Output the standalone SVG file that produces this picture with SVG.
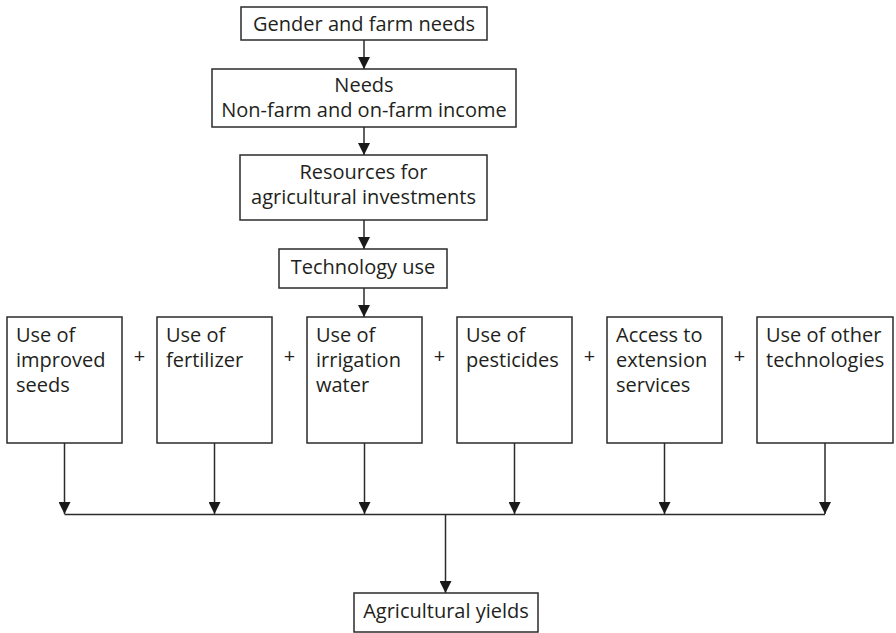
<svg xmlns="http://www.w3.org/2000/svg" width="896" height="633" viewBox="0 0 896 633">
<style>
  .box { fill: #ffffff; stroke: #2b2b2b; stroke-width: 1.5; }
  .t { font-family: "Open Sans", "Liberation Sans", sans-serif; font-size: 20px; fill: #231f20; }
  .c { text-anchor: middle; }
  .ln { stroke: #2b2b2b; stroke-width: 1.5; fill: none; }
  .ar { marker-end: url(#arrow); }
</style>
<defs>
  <marker id="arrow" markerUnits="userSpaceOnUse" viewBox="0 0 12 12" refX="12" refY="6" markerWidth="12" markerHeight="12" orient="auto">
    <path d="M0,0 L12,6 L0,12 Z" fill="#1a1a1a"/>
  </marker>
</defs>
<rect width="896" height="633" fill="#ffffff"/>

<g id="connectors">
  <line class="ln ar" x1="364" y1="40" x2="364" y2="69"/>
  <line class="ln ar" x1="364" y1="127" x2="364" y2="155"/>
  <line class="ln ar" x1="364" y1="220" x2="364" y2="249"/>
  <line class="ln ar" x1="364" y1="288" x2="364" y2="317"/>
  <line class="ln ar" x1="64.5" y1="443" x2="64.5" y2="514"/>
  <line class="ln ar" x1="214.5" y1="443" x2="214.5" y2="514"/>
  <line class="ln ar" x1="364.5" y1="443" x2="364.5" y2="514"/>
  <line class="ln ar" x1="514.5" y1="443" x2="514.5" y2="514"/>
  <line class="ln ar" x1="664.5" y1="443" x2="664.5" y2="514"/>
  <line class="ln ar" x1="825" y1="443" x2="825" y2="514"/>
  <line class="ln" x1="64.5" y1="514.5" x2="825" y2="514.5"/>
  <line class="ln ar" x1="445.5" y1="514.5" x2="445.5" y2="593"/>
</g>

<g id="gender">
  <rect class="box" x="241" y="7" width="246" height="33"/>
  <text class="t c" x="364" y="31">Gender and farm needs</text>
</g>
<g id="needs">
  <rect class="box" x="212" y="69" width="304" height="58"/>
  <text class="t c" x="364" y="92">Needs</text>
  <text class="t c" x="364" y="117">Non-farm and on-farm income</text>
</g>
<g id="resources">
  <rect class="box" x="240" y="155" width="247" height="65"/>
  <text class="t c" x="363.5" y="179">Resources for</text>
  <text class="t c" x="363.5" y="204">agricultural investments</text>
</g>
<g id="technology">
  <rect class="box" x="279" y="249" width="168" height="39"/>
  <text class="t c" x="363" y="274">Technology use</text>
</g>

<g id="seeds">
  <rect class="box" x="7" y="317" width="115" height="126"/>
  <text class="t" x="16" y="342">Use of</text>
  <text class="t" x="16" y="367">improved</text>
  <text class="t" x="16" y="392">seeds</text>
</g>
<g id="fertilizer">
  <rect class="box" x="157" y="317" width="115" height="126"/>
  <text class="t" x="166" y="342">Use of</text>
  <text class="t" x="166" y="367">fertilizer</text>
</g>
<g id="irrigation">
  <rect class="box" x="307" y="317" width="115" height="126"/>
  <text class="t" x="316" y="342">Use of</text>
  <text class="t" x="316" y="367">irrigation</text>
  <text class="t" x="316" y="392">water</text>
</g>
<g id="pesticides">
  <rect class="box" x="457" y="317" width="115" height="126"/>
  <text class="t" x="466" y="342">Use of</text>
  <text class="t" x="466" y="367">pesticides</text>
</g>
<g id="extension">
  <rect class="box" x="607" y="317" width="115" height="126"/>
  <text class="t" x="616" y="342">Access to</text>
  <text class="t" x="616" y="367">extension</text>
  <text class="t" x="616" y="392">services</text>
</g>
<g id="other">
  <rect class="box" x="757" y="317" width="136" height="126"/>
  <text class="t" x="766" y="342">Use of other</text>
  <text class="t" x="766" y="367">technologies</text>
</g>

<g id="plus-signs">
  <text class="t c" x="139.5" y="363">+</text>
  <text class="t c" x="289.5" y="363">+</text>
  <text class="t c" x="439.5" y="363">+</text>
  <text class="t c" x="589.5" y="363">+</text>
  <text class="t c" x="739.5" y="363">+</text>
</g>

<g id="yields">
  <rect class="box" x="354" y="593" width="184" height="39"/>
  <text class="t c" x="446" y="618">Agricultural yields</text>
</g>
</svg>
